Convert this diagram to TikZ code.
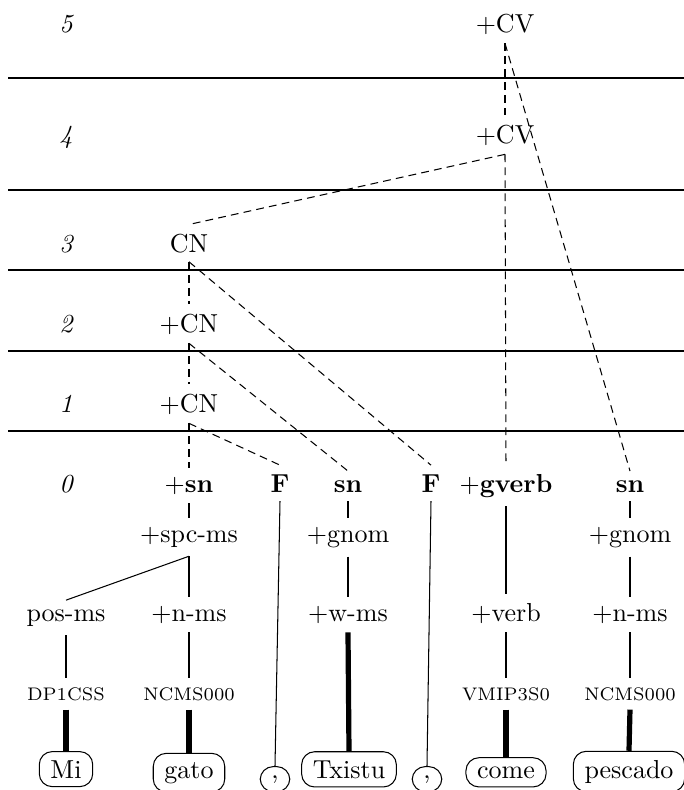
\documentclass[tikz,border=0pt]{standalone}
\usepackage{xcolor}
\usepackage{tikz}

\tikzset{
  cat/.style={anchor=base},
  tag/.style={anchor=base, font=\scriptsize},
  word/.style={anchor=base, draw, inner xsep=4.3pt, rounded corners=5pt},
  head/.style={dash pattern=on 3pt off 2pt},
  lex/.style={line width=2pt},
  rule/.style={line width=1.1pt},
}

\begin{document}
\begin{tikzpicture}[x=0.3846pt,y=-0.3846pt]
  \useasboundingbox (0,0) rectangle (684,790);
  % level rules and numbers
  \foreach \y in {78,190,270,351,431}
    \draw[rule] (8,\y) -- (684,\y);
  \foreach \n/\y in {5/32,4/143,3/252,2/332,1/412,0/492}
    \node[cat, font=\itshape] (lvl\n) at (66,\y) {\n};

  % chunks
  \node[cat] (cv5) at (505,32) {+CV};
  \node[cat] (cv4) at (505,143) {+CV};
  \node[cat] (cn3) at (189,252) {CN};
  \node[cat] (cn2) at (189,332) {+CN};
  \node[cat] (cn1) at (189,412) {+CN};

  % level 0
  \node[cat] (sn1) at (189,492) {+\textbf{sn}};
  \node[cat] (f1) at (280,492) {\textbf{F}};
  \node[cat] (sn2) at (348,492) {\textbf{sn}};
  \node[cat] (f2) at (431,492) {\textbf{F}};
  \node[cat] (gv) at (506,492) {+\textbf{gverb}};
  \node[cat] (sn3) at (630,492) {\textbf{sn}};

  \node[cat] (spc) at (189,542) {+spc-ms};
  \node[cat] (gn1) at (348,542) {+gnom};
  \node[cat] (gn2) at (630,542) {+gnom};

  \node[cat] (pos) at (66,621) {pos-ms};
  \node[cat] (nms1) at (189,621) {+n-ms};
  \node[cat] (wms) at (348,621) {+w-ms};
  \node[cat] (verb) at (506,621) {+verb};
  \node[cat] (nms2) at (630,621) {+n-ms};

  \node[tag] (t1) at (66,700) {DP1CSS};
  \node[tag] (t2) at (189,700) {NCMS000};
  \node[tag] (t3) at (506,700) {VMIP3S0};
  \node[tag] (t4) at (630,700) {NCMS000};

  % words
  \node[word] (w1) at (66,778) {Mi};
  \node[word] (w2) at (189,778) {gato};
  \node[word] (w3) at (275,778) {,};
  \node[word] (w4) at (349,778) {Txistu};
  \node[word] (w5) at (427,778) {,};
  \node[word] (w6) at (506,778) {come};
  \node[word] (w7) at (629,778) {pescado};

  % dependencies between chunks
  \draw[head] (cv5.south) -- (cv4.north);
  \draw[head] (cv5.south) -- (sn3.north);
  \draw[head] (cv4.south) -- (cn3.north);
  \draw[head] (cv4.south) -- (gv.north);
  \draw[head] (cn3.south) -- (cn2.north);
  \draw[head] (cn3.south) -- (f2.north);
  \draw[head] (cn2.south) -- (cn1.north);
  \draw[head] (cn2.south) -- (sn2.north);
  \draw[head] (cn1.south) -- (sn1.north);
  \draw[head] (cn1.south) -- (f1.north);

  % chunk trees
  \draw (sn1.south) -- (spc.north);
  \draw (spc.south) -- (pos.north);
  \draw (spc.south) -- (nms1.north);
  \draw (pos.south) -- (t1.north);
  \draw (nms1.south) -- (t2.north);
  \draw (f1.south) -- (w3.north);
  \draw (sn2.south) -- (gn1.north);
  \draw (gn1.south) -- (wms.north);
  \draw (f2.south) -- (w5.north);
  \draw (gv.south) -- (verb.north);
  \draw (verb.south) -- (t3.north);
  \draw (sn3.south) -- (gn2.north);
  \draw (gn2.south) -- (nms2.north);
  \draw (nms2.south) -- (t4.north);

  % lexical links
  \draw[lex] (t1.south) -- (w1.north);
  \draw[lex] (t2.south) -- (w2.north);
  \draw[lex] (wms.south) -- (w4.north);
  \draw[lex] (t3.south) -- (w6.north);
  \draw[lex] (t4.south) -- (w7.north);
\end{tikzpicture}
\end{document}
